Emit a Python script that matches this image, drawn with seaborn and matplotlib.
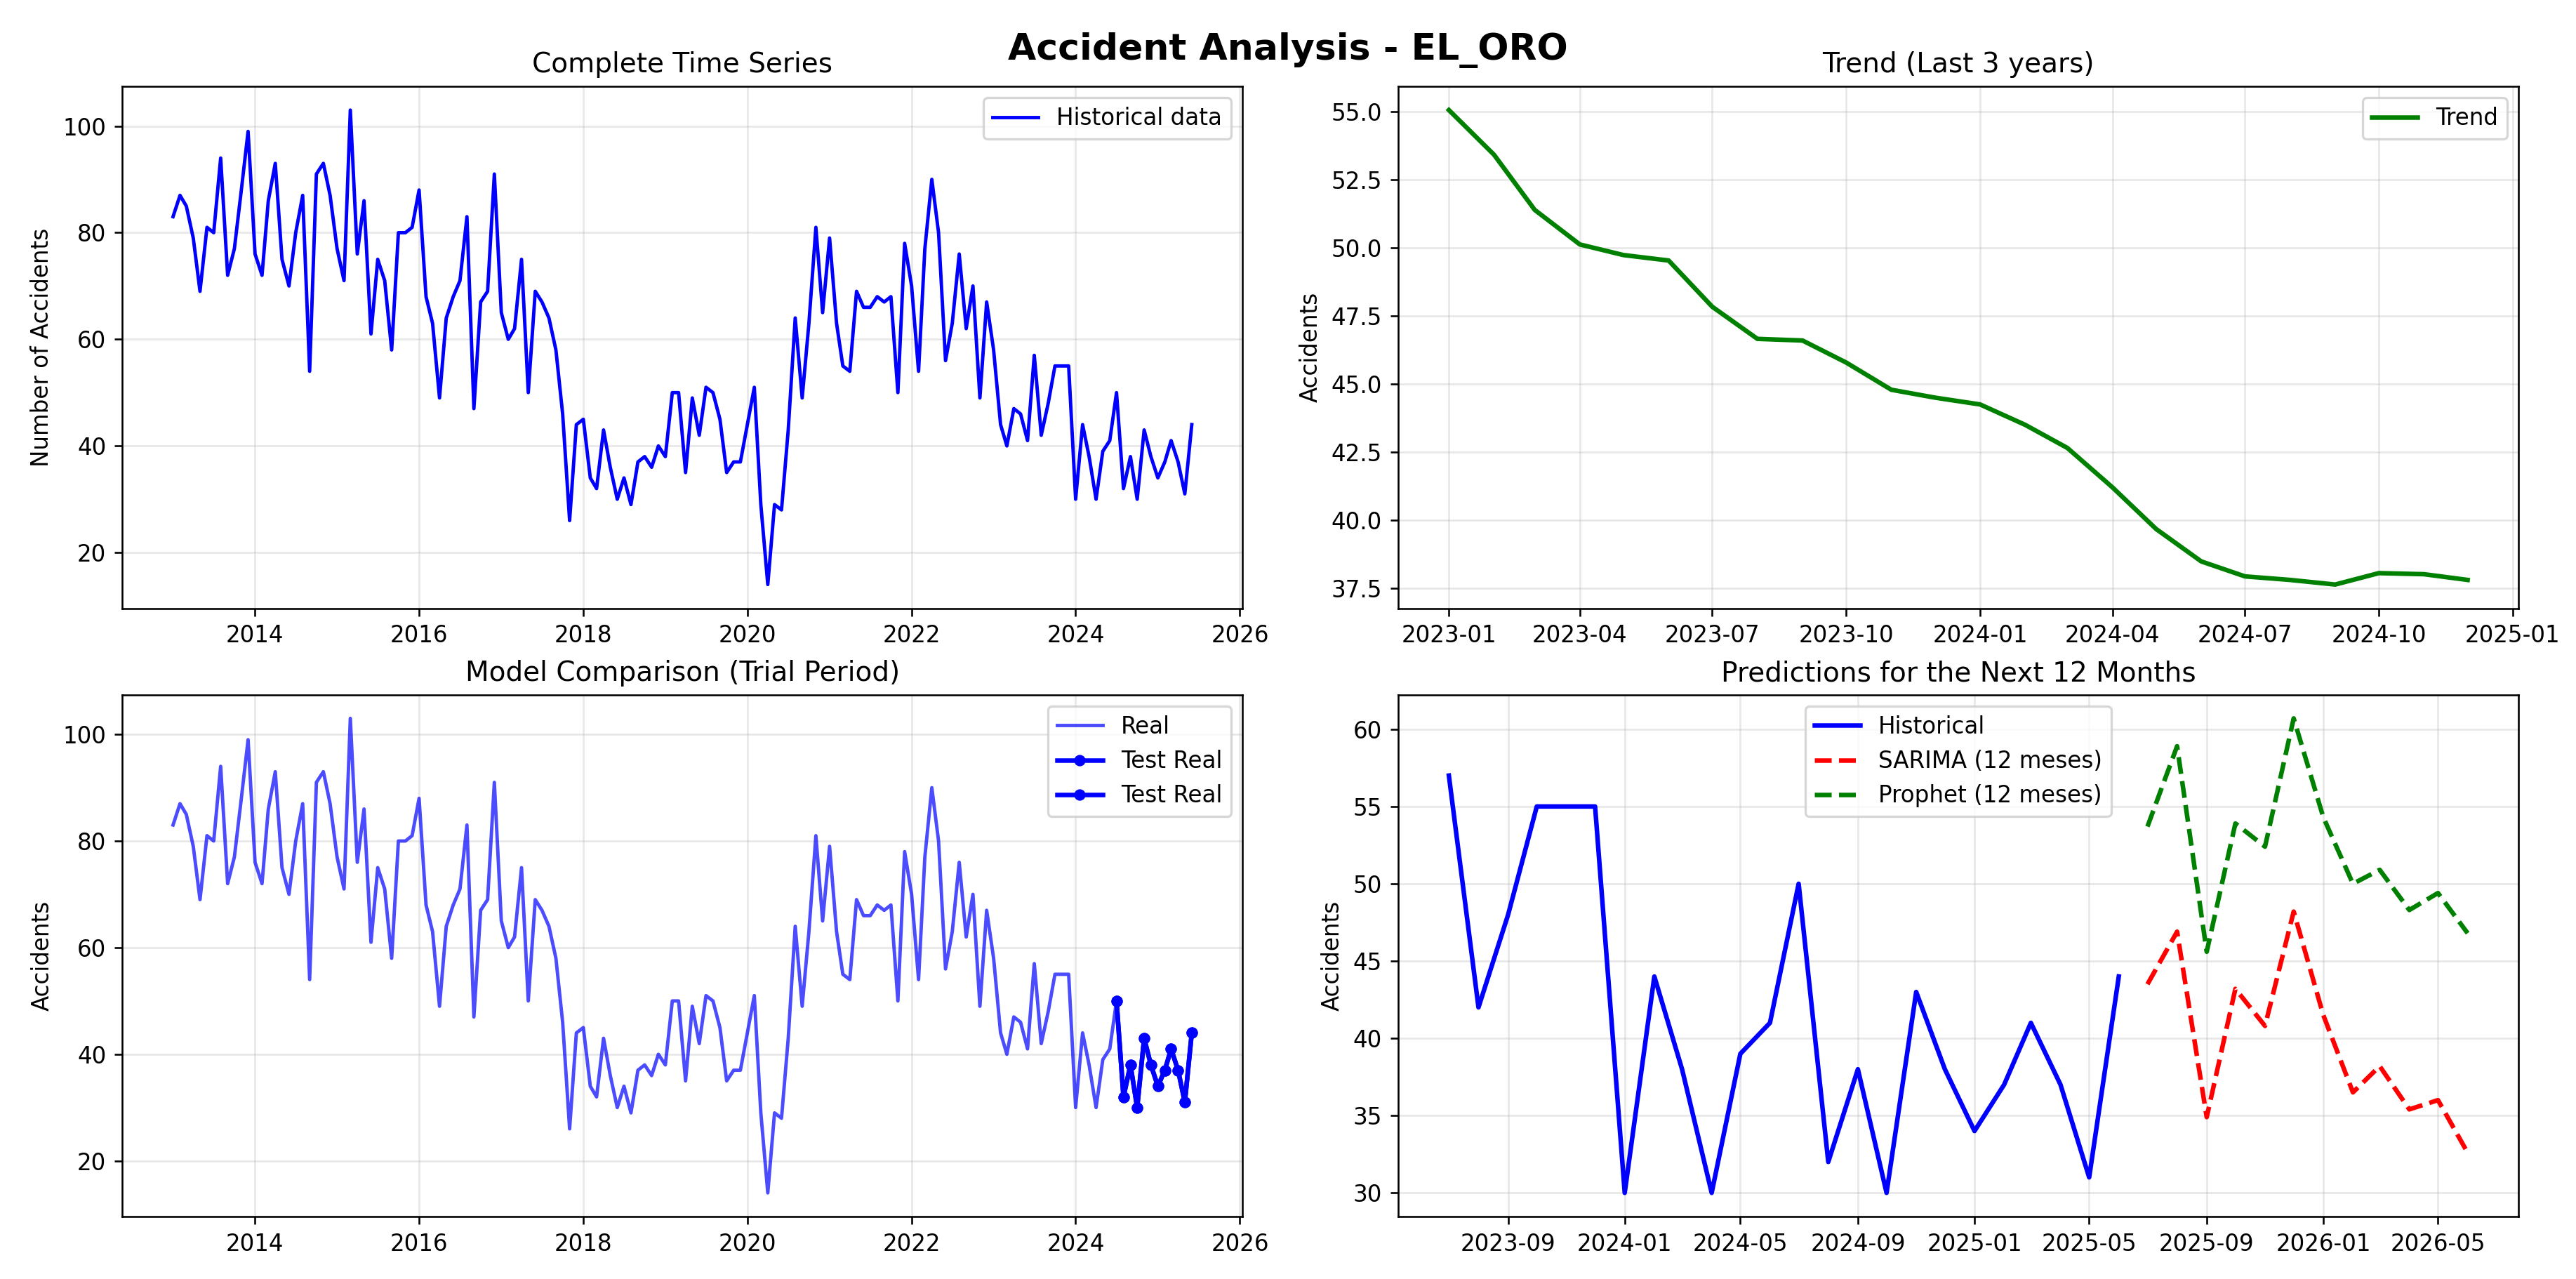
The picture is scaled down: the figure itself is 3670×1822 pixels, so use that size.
import seaborn as sns
import matplotlib.pyplot as plt
import pandas as pd

# monthly accident counts, EL_ORO, 2013-01 .. 2025-06
accidents = [
    83, 87, 85, 79, 69, 81, 80, 94, 72, 77, 88, 99,
    76, 72, 86, 93, 75, 70, 80, 87, 54, 91, 93, 87,
    77, 71, 103, 76, 86, 61, 75, 71, 58, 80, 80, 81,
    88, 68, 63, 49, 64, 68, 71, 83, 47, 67, 69, 91,
    65, 60, 62, 75, 50, 69, 67, 64, 58, 46, 26, 44,
    45, 34, 32, 43, 36, 30, 34, 29, 37, 38, 36, 40,
    38, 50, 50, 35, 49, 42, 51, 50, 45, 35, 37, 37,
    44, 51, 29, 14, 29, 28, 43, 64, 49, 63, 81, 65,
    79, 63, 55, 54, 69, 66, 66, 68, 67, 68, 50, 78,
    70, 54, 77, 90, 80, 56, 63, 76, 62, 70, 49, 67,
    58, 44, 40, 47, 46, 41, 57, 42, 48, 55, 55, 55,
    30, 44, 38, 30, 39, 41, 50, 32, 38, 30, 43, 38,
    34, 37, 41, 37, 31, 44,
]
fechas = pd.date_range("2013-01-01", periods=len(accidents), freq="MS")

# trend component 2023-01 .. 2024-12
trend = [55.07, 53.43, 51.40, 50.13, 49.74, 49.54, 47.84, 46.66, 46.60, 45.79, 44.79, 44.50,
         44.25, 43.50, 42.65, 41.20, 39.67, 38.48, 37.93, 37.80, 37.63, 38.05, 38.01, 37.80]
fechas_trend = pd.date_range("2023-01-01", periods=len(trend), freq="MS")

# forecasts 2025-07 .. 2026-06
sarima = [43.5, 46.9, 34.9, 43.2, 40.8, 48.2, 41.5, 36.5, 38.2, 35.4, 36.0, 32.6]
prophet = [53.7, 58.9, 45.6, 53.9, 52.4, 60.7, 54.3, 50.0, 50.9, 48.3, 49.4, 46.8]
fechas_pred = pd.date_range("2025-07-01", periods=len(sarima), freq="MS")

n_test = 12
n_hist = 24

df = pd.DataFrame({"fecha": fechas, "accidentes": accidents})
df_test = df.tail(n_test)
df_hist = df.tail(n_hist)
df_trend = pd.DataFrame({"fecha": fechas_trend, "trend": trend})
df_pred = pd.DataFrame({"fecha": fechas_pred, "sarima": sarima, "prophet": prophet})

fig, axes = plt.subplots(2, 2, figsize=(3670 / 234, 1822 / 234), dpi=234)
fig.subplots_adjust(left=0.0474, right=0.9777, top=0.9325, bottom=0.0488,
                    wspace=0.1385, hspace=0.1655)
fig.suptitle("Accident Analysis - EL_ORO", fontsize=16, fontweight="bold", y=0.975)

# 1. serie completa
ax = axes[0, 0]
sns.lineplot(data=df, x="fecha", y="accidentes", ax=ax, color="blue",
             linewidth=1.5, label="Historical data")
ax.set_title("Complete Time Series")
ax.set_xlabel("")
ax.set_ylabel("Number of Accidents")
ax.legend(loc="upper right")
ax.grid(True, alpha=0.3)

# 2. tendencia
ax = axes[0, 1]
sns.lineplot(data=df_trend, x="fecha", y="trend", ax=ax, color="green",
             linewidth=2, label="Trend")
ax.set_title("Trend (Last 3 years)")
ax.set_xlabel("")
ax.set_ylabel("Accidents")
ax.legend(loc="upper right")
ax.grid(True, alpha=0.3)

# 3. comparacion de modelos
ax = axes[1, 0]
sns.lineplot(data=df, x="fecha", y="accidentes", ax=ax, color="blue",
             alpha=0.7, linewidth=1.5, label="Real")
for _ in range(2):
    sns.lineplot(data=df_test, x="fecha", y="accidentes", ax=ax, color="blue",
                 marker="o", markersize=5, markeredgewidth=0, linewidth=2,
                 label="Test Real")
ax.set_title("Model Comparison (Trial Period)")
ax.set_xlabel("")
ax.set_ylabel("Accidents")
ax.legend(loc="upper right")
ax.grid(True, alpha=0.3)

# 4. predicciones
ax = axes[1, 1]
sns.lineplot(data=df_hist, x="fecha", y="accidentes", ax=ax, color="blue",
             linewidth=2, label="Historical")
sns.lineplot(data=df_pred, x="fecha", y="sarima", ax=ax, color="red",
             linestyle="--", linewidth=2, label="SARIMA (12 meses)")
sns.lineplot(data=df_pred, x="fecha", y="prophet", ax=ax, color="green",
             linestyle="--", linewidth=2, label="Prophet (12 meses)")
ax.set_title("Predictions for the Next 12 Months")
ax.set_xlabel("")
ax.set_ylabel("Accidents")
ax.legend(loc="upper center")
ax.grid(True, alpha=0.3)

plt.savefig("out.png", dpi=234)
